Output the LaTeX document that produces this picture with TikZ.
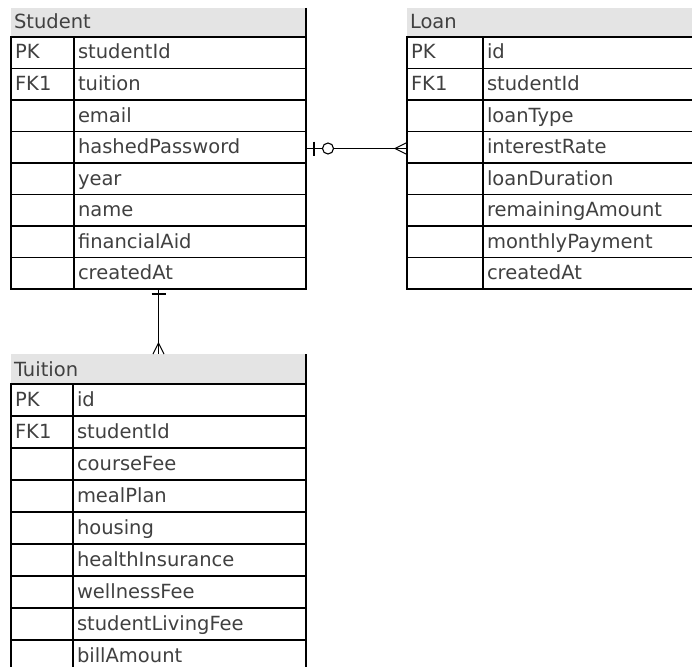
\documentclass[tikz,border=0pt]{standalone}
\usepackage{fontspec}
\setmainfont{DejaVu Sans}
\usetikzlibrary{positioning,fit}
\definecolor{HeadGray}{HTML}{E4E4E4}
\definecolor{TextGray}{HTML}{404040}

\begin{document}
\begin{tikzpicture}[
  x=1pt, y=-1pt,
  cell/.style = {draw, line width=1.1pt, outer sep=0pt, inner xsep=4pt, inner ysep=0pt,
                 text height=22pt, text depth=9.5pt, align=left, anchor=north west,
                 font=\fontsize{19.5}{22}\selectfont, text=TextGray},
  head/.style = {fill=HeadGray, outer sep=0pt, inner xsep=3pt, inner ysep=0pt,
                 text height=21pt, text depth=8pt, align=left, anchor=north west,
                 font=\fontsize{19.5}{22}\selectfont, text=TextGray},
  entity/.style = {inner sep=0pt, outer sep=0pt},
  edge/.style = {line width=1.8pt},
  link/.style = {line width=1.1pt}
]
  \useasboundingbox (0,0) rectangle (692,666);
  \clip (0,0) rectangle (692,666);

  % Student
  \node[head, text width=289pt] (stu-head) at (11,8) {Student};
  \foreach \k/\f [count=\i] in {PK/studentId, FK1/tuition, /email, /hashedPassword,
                                /year, /name, /financialAid, /createdAt}{
    \node[cell, text width=55pt] (stu-k\i) at (11,{37+31.5*(\i-1)}) {\k};
    \node[cell, text width=224pt, right=0pt of stu-k\i] (stu-f\i) {\f};
  }
  \node[entity, fit=(stu-head)(stu-f8)] (student) {};

  % Loan
  \node[head, text width=300pt] (loan-head) at (407,8) {Loan};
  \foreach \k/\f [count=\i] in {PK/id, FK1/studentId, /loanType, /interestRate,
                                /loanDuration, /remainingAmount, /monthlyPayment, /createdAt}{
    \node[cell, text width=68pt] (loan-k\i) at (407,{37+31.5*(\i-1)}) {\k};
    \node[cell, text width=229pt, right=0pt of loan-k\i] (loan-f\i) {\f};
  }
  \node[entity, fit=(loan-head)(loan-f8)] (loan) {};

  % Tuition
  \node[head, text width=289pt, text height=22pt] (tui-head) at (11,354) {Tuition};
  \foreach \k/\f [count=\i] in {PK/id, FK1/studentId, /courseFee, /mealPlan, /housing,
                                /healthInsurance, /wellnessFee, /studentLivingFee, /billAmount}{
    \node[cell, text width=54pt, text height=22.5pt] (tui-k\i) at (11,{384+32*(\i-1)}) {\k};
    \node[cell, text width=225pt, text height=22.5pt, right=0pt of tui-k\i] (tui-f\i) {\f};
  }
  \node[entity, fit=(tui-head)(tui-f9)] (tuition) {};

  \draw[edge] (student.north east) -- (student.south east);
  \draw[edge] (tuition.north east) -- (tuition.south east);

  % relations
  \draw[link] (student) -- (loan);
  \draw[link] (student.south) -- (tuition.north);

  % zero or one / many
  \draw[link] ([xshift=8pt]student.east) ++(0,-7) -- ++(0,14);
  \draw[link, fill=white] ([xshift=22pt]student.east) circle (5.5pt);
  \draw[link] ([xshift=-12pt]loan.west) -- ++(12,-6)
              ([xshift=-12pt]loan.west) -- ++(12,6);
  % one / many
  \draw[link] ([yshift=-5pt]student.south) ++(-7,0) -- ++(14,0);
  \draw[link] ([yshift=11pt]tuition.north) -- ++(-5.5,11)
              ([yshift=11pt]tuition.north) -- ++(5.5,11);
\end{tikzpicture}
\end{document}
